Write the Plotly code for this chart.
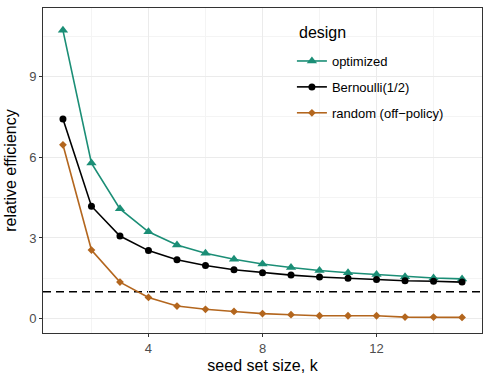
import plotly.graph_objects as go

k = list(range(1, 16))
optimized = [10.71, 5.78, 4.08, 3.23, 2.74, 2.43, 2.21, 2.03, 1.90, 1.79, 1.71, 1.64, 1.56, 1.51, 1.48]
bernoulli = [7.42, 4.18, 3.07, 2.53, 2.19, 1.98, 1.82, 1.71, 1.62, 1.55, 1.50, 1.46, 1.41, 1.39, 1.36]
random_off = [6.46, 2.55, 1.36, 0.79, 0.47, 0.35, 0.27, 0.19, 0.15, 0.11, 0.11, 0.11, 0.06, 0.06, 0.05]
names = ["optimized", "Bernoulli(1/2)", "random (off\u2212policy)"]
legend_title = "design"
x_ticks = [4, 8, 12]
y_ticks = [0, 3, 6, 9]
ref_level = 1

colors = ["#1B8E76", "#000000", "#B3661E"]
symbols = ["triangle-up", "circle", "diamond"]
msizes = [9, 7, 6]
series = [optimized, bernoulli, random_off]

fig = go.Figure()
for i, (nm, ys, c, s, ms) in enumerate(zip(names, series, colors, symbols, msizes)):
    fig.add_trace(go.Scatter(x=k, y=ys, name=nm, mode="lines+markers", legendgroup=f"g{i}",
                             line=dict(color=c, width=1.6),
                             marker=dict(symbol=s, size=ms, color=c)))

fig.add_shape(type="line", xref="paper", x0=0, x1=1, yref="y", y0=ref_level, y1=ref_level,
              line=dict(color="black", width=1.6, dash="8px,5px"), layer="between")
# white legend background box covering gridlines
fig.add_shape(type="rect", xref="paper", yref="paper", x0=0.5626, x1=0.943, y0=0.6185, y1=1.0,
              line=dict(width=0), fillcolor="white", layer="between")

fig.add_annotation(text=legend_title, xref="paper", yref="paper", x=0.5786, y=0.926,
                   xanchor="left", yanchor="middle", showarrow=False,
                   font=dict(size=16, color="black"))

axis_common = dict(showline=True, linecolor="#333333", linewidth=1, mirror=True,
                   ticks="outside", ticklen=3, tickcolor="#333333",
                   gridcolor="#EBEBEB", gridwidth=1, zeroline=False, automargin=False,
                   tickfont=dict(size=13, color="#4D4D4D"))

fig.update_layout(
    width=491, height=382,
    margin=dict(l=43, r=9, t=8, b=49),
    plot_bgcolor="white", paper_bgcolor="white",
    font=dict(family="Liberation Sans, Arial, sans-serif", color="black"),
    xaxis=dict(range=[0.3, 15.7], tickvals=x_ticks,
               title=dict(text="seed set size, k", font=dict(size=16), standoff=5),
               minor=dict(tickvals=[2, 6, 10, 14], showgrid=True, gridcolor="#F4F4F4", gridwidth=0.6, ticks=""),
               **axis_common),
    yaxis=dict(range=[-0.53, 11.54], tickvals=y_ticks,
               title=dict(text="relative efficiency", font=dict(size=16), standoff=8),
               minor=dict(tickvals=[1.5, 4.5, 7.5, 10.5], showgrid=True, gridcolor="#F4F4F4", gridwidth=0.6, ticks=""),
               **axis_common),
    legend=dict(x=0.567, y=0.883, xanchor="left", yanchor="top",
                bgcolor="rgba(255,255,255,0)", borderwidth=0, itemwidth=30,
                font=dict(size=13), tracegroupgap=6),
    showlegend=True,
)

fig.write_html("out.html", config={"displayModeBar": False},
               post_script="document.body.style.margin='0';document.body.style.overflow='hidden';")
